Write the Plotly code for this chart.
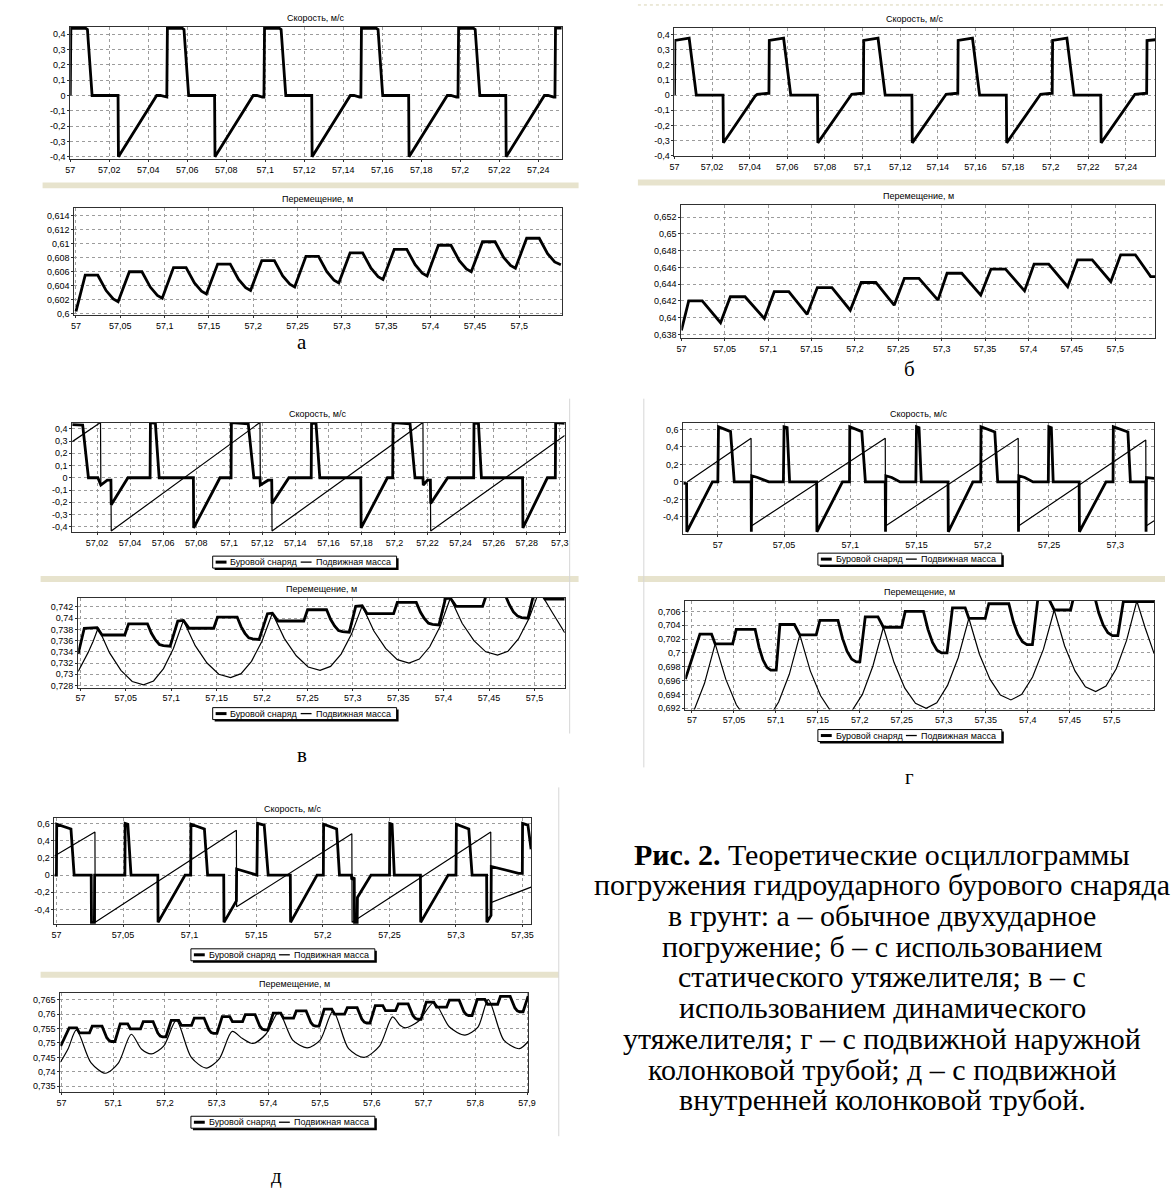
import plotly.graph_objects as go

W, H = 1173, 1196
FONT = "Liberation Sans, Arial, sans-serif"
SERIF = "Liberation Serif, Times New Roman, serif"

# ---------------- tick labels ----------------
T_002 = [57.00, 57.02, 57.04, 57.06, 57.08, 57.10, 57.12, 57.14, 57.16, 57.18, 57.20, 57.22, 57.24, 57.26, 57.28, 57.30]
T_002_LBL = ["57", "57,02", "57,04", "57,06", "57,08", "57,1", "57,12", "57,14", "57,16", "57,18", "57,2", "57,22", "57,24", "57,26", "57,28", "57,3"]
T_005 = [57.00, 57.05, 57.10, 57.15, 57.20, 57.25, 57.30, 57.35, 57.40, 57.45, 57.50]
T_005_LBL = ["57", "57,05", "57,1", "57,15", "57,2", "57,25", "57,3", "57,35", "57,4", "57,45", "57,5"]
T_01 = [57.0, 57.1, 57.2, 57.3, 57.4, 57.5, 57.6, 57.7, 57.8, 57.9]
T_01_LBL = ["57", "57,1", "57,2", "57,3", "57,4", "57,5", "57,6", "57,7", "57,8", "57,9"]

V01 = [-0.4, -0.3, -0.2, -0.1, 0.0, 0.1, 0.2, 0.3, 0.4]
V01_LBL = ["-0,4", "-0,3", "-0,2", "-0,1", "0", "0,1", "0,2", "0,3", "0,4"]
V02 = [-0.4, -0.2, 0.0, 0.2, 0.4, 0.6]
V02_LBL = ["-0,4", "-0,2", "0", "0,2", "0,4", "0,6"]

A_D_YT = [0.600, 0.602, 0.604, 0.606, 0.608, 0.610, 0.612, 0.614]
A_D_YL = ["0,6", "0,602", "0,604", "0,606", "0,608", "0,61", "0,612", "0,614"]
B_D_YT = [0.638, 0.640, 0.642, 0.644, 0.646, 0.648, 0.650, 0.652]
B_D_YL = ["0,638", "0,64", "0,642", "0,644", "0,646", "0,648", "0,65", "0,652"]
C_D_YT = [0.728, 0.730, 0.732, 0.734, 0.736, 0.738, 0.740, 0.742]
C_D_YL = ["0,728", "0,73", "0,732", "0,734", "0,736", "0,738", "0,74", "0,742"]
D_D_YT = [0.692, 0.694, 0.696, 0.698, 0.700, 0.702, 0.704, 0.706]
D_D_YL = ["0,692", "0,694", "0,696", "0,698", "0,7", "0,702", "0,704", "0,706"]
E_D_YT = [0.735, 0.740, 0.745, 0.750, 0.755, 0.760, 0.765]
E_D_YL = ["0,735", "0,74", "0,745", "0,75", "0,755", "0,76", "0,765"]

# ---------------- а: velocity / displacement ----------------
A_V = [
    (57.0000, 0.00), (57.0003, 0.44), (57.0080, 0.437), (57.0088, 0.43), (57.0112, 0.00), (57.0245, 0.00), (57.0247, -0.40), (57.0443, 0.00), (57.0462, 0.00), (57.0490, -0.01),
    (57.0495, -0.01), (57.0498, 0.44), (57.0575, 0.437), (57.0583, 0.43), (57.0607, 0.00), (57.0740, 0.00), (57.0742, -0.40), (57.0938, 0.00), (57.0957, 0.00), (57.0985, -0.01),
    (57.0993, -0.01), (57.0996, 0.44), (57.1073, 0.437), (57.1081, 0.43), (57.1105, 0.00), (57.1238, 0.00), (57.1240, -0.40), (57.1436, 0.00), (57.1455, 0.00), (57.1483, -0.01),
    (57.1490, -0.01), (57.1493, 0.44), (57.1570, 0.437), (57.1578, 0.43), (57.1602, 0.00), (57.1735, 0.00), (57.1737, -0.40), (57.1933, 0.00), (57.1952, 0.00), (57.1980, -0.01),
    (57.1988, -0.01), (57.1991, 0.44), (57.2068, 0.437), (57.2076, 0.43), (57.2100, 0.00), (57.2233, 0.00), (57.2235, -0.40), (57.2431, 0.00), (57.2450, 0.00), (57.2478, -0.01),
    (57.2485, -0.01), (57.2488, 0.44), (57.2520, 0.44),
]
A_D = [
    (57.0000, 0.6003),
    (57.0104, 0.6055), (57.0246, 0.6055), (57.0340, 0.6033), (57.0420, 0.6021), (57.0475, 0.6017),
    (57.0602, 0.6060), (57.0744, 0.6060), (57.0838, 0.6038), (57.0918, 0.6026), (57.0973, 0.6022),
    (57.1100, 0.6066), (57.1242, 0.6066), (57.1336, 0.6044), (57.1416, 0.6032), (57.1471, 0.6028),
    (57.1598, 0.6071), (57.1740, 0.6071), (57.1834, 0.6049), (57.1914, 0.6037), (57.1969, 0.6033),
    (57.2096, 0.6076), (57.2238, 0.6076), (57.2332, 0.6054), (57.2412, 0.6042), (57.2467, 0.6038),
    (57.2594, 0.6082), (57.2736, 0.6082), (57.2830, 0.6060), (57.2910, 0.6048), (57.2965, 0.6044),
    (57.3092, 0.6087), (57.3234, 0.6087), (57.3328, 0.6065), (57.3408, 0.6053), (57.3463, 0.6049),
    (57.3590, 0.6092), (57.3732, 0.6092), (57.3826, 0.6070), (57.3906, 0.6058), (57.3961, 0.6054),
    (57.4088, 0.6098), (57.4230, 0.6098), (57.4324, 0.6076), (57.4404, 0.6064), (57.4459, 0.6060),
    (57.4586, 0.6103), (57.4728, 0.6103), (57.4822, 0.6081), (57.4902, 0.6069), (57.4957, 0.6065),
    (57.5084, 0.6108), (57.5226, 0.6108), (57.5320, 0.6086), (57.5400, 0.6074), (57.5470, 0.6070),
]

# ---------------- б ----------------
B_V = [
    (57.0000, 0.00), (57.0002, 0.36), (57.0078, 0.375), (57.0116, 0.00), (57.0258, 0.00), (57.0260, -0.315), (57.0430, -0.005), (57.0440, 0.005), (57.0500, 0.012),
    (57.0502, 0.012), (57.0504, 0.36), (57.0580, 0.375), (57.0618, 0.00), (57.0760, 0.00), (57.0762, -0.315), (57.0932, -0.005), (57.0942, 0.005), (57.1002, 0.012),
    (57.1004, 0.012), (57.1006, 0.36), (57.1082, 0.375), (57.1120, 0.00), (57.1262, 0.00), (57.1264, -0.315), (57.1434, -0.005), (57.1444, 0.005), (57.1504, 0.012),
    (57.1506, 0.012), (57.1508, 0.36), (57.1584, 0.375), (57.1622, 0.00), (57.1764, 0.00), (57.1766, -0.315), (57.1936, -0.005), (57.1946, 0.005), (57.2006, 0.012),
    (57.2008, 0.012), (57.2010, 0.36), (57.2086, 0.375), (57.2124, 0.00), (57.2266, 0.00), (57.2268, -0.315), (57.2438, -0.005), (57.2448, 0.005), (57.2508, 0.012),
    (57.2510, 0.012), (57.2512, 0.36), (57.2555, 0.365),
]
B_D = [
    (57.0000, 0.6385), (57.0084, 0.6420), (57.0240, 0.6420), (57.0451, 0.6394),
    (57.0564, 0.6425), (57.0733, 0.6425), (57.0956, 0.6399),
    (57.1070, 0.6431), (57.1238, 0.6431), (57.1449, 0.6404),
    (57.1567, 0.6436), (57.1735, 0.6436), (57.1946, 0.6409),
    (57.2072, 0.6442), (57.2241, 0.6442), (57.2452, 0.6415),
    (57.2570, 0.6447), (57.2738, 0.6447), (57.2957, 0.6421),
    (57.3062, 0.6453), (57.3231, 0.6453), (57.3450, 0.6427),
    (57.3568, 0.6458), (57.3736, 0.6458), (57.3955, 0.6432),
    (57.4065, 0.6464), (57.4233, 0.6464), (57.4452, 0.6437),
    (57.4566, 0.6469), (57.4735, 0.6469), (57.4949, 0.6443),
    (57.5063, 0.6475), (57.5232, 0.6475), (57.5409, 0.6449), (57.5463, 0.6449),
]

# ---------------- в ----------------
C_V_DRILL = [
    (57.0050, 0.435), (57.0113, 0.43), (57.0148, 0.00), (57.0205, 0.00), (57.0223, -0.06), (57.0262, -0.02), (57.0284, -0.02), (57.0286, -0.22), (57.0387, 0.00),
    (57.0521, 0.00), (57.0523, 0.45), (57.0553, 0.445), (57.0576, 0.00), (57.0783, 0.00), (57.0785, -0.41), (57.0944, 0.00), (57.1011, 0.00), (57.1013, 0.45),
    (57.1115, 0.44), (57.1149, 0.00), (57.1186, 0.00), (57.1188, -0.06), (57.1235, -0.02), (57.1257, -0.02), (57.1259, -0.21), (57.1361, 0.00),
    (57.1496, 0.00), (57.1498, 0.45), (57.1525, 0.445), (57.1548, 0.00), (57.1796, 0.00), (57.1798, -0.41), (57.1957, 0.00), (57.1989, 0.00), (57.1991, 0.45),
    (57.2094, 0.44), (57.2124, 0.00), (57.2172, 0.00), (57.2174, -0.06), (57.2200, -0.02), (57.2217, -0.02), (57.2219, -0.21), (57.2322, 0.00),
    (57.2479, 0.00), (57.2481, 0.45), (57.2508, 0.445), (57.2526, 0.00), (57.2775, 0.00), (57.2777, -0.41), (57.2925, 0.00), (57.2973, 0.00), (57.2975, 0.45),
    (57.3030, 0.445),
]
C_V_MASS = [
    (57.0050, 0.295), (57.0221, 0.452), (57.0223, -0.06), (57.0262, -0.02), (57.0284, -0.02), (57.0286, -0.435),
    (57.1186, 0.452), (57.1188, -0.06), (57.1235, -0.02), (57.1257, -0.02), (57.1259, -0.435),
    (57.2172, 0.452), (57.2174, -0.06), (57.2200, -0.02), (57.2217, -0.02), (57.2219, -0.435),
    (57.3030, 0.345),
]
C_D_DRILL = [
    (56.9975, 0.7336), (57.0042, 0.7382), (57.0183, 0.7383), (57.0238, 0.7370), (57.0488, 0.7370), (57.0530, 0.7390), (57.0738, 0.7390),
    (57.0782, 0.7373), (57.0826, 0.7361), (57.0869, 0.7353), (57.0913, 0.7351), (57.0988, 0.7350),
    (57.1072, 0.7395), (57.1134, 0.7396), (57.1197, 0.7382), (57.1468, 0.7382), (57.1510, 0.7402), (57.1726, 0.7402),
    (57.1769, 0.7385), (57.1812, 0.7373), (57.1854, 0.7365), (57.1897, 0.7363), (57.1968, 0.7362),
    (57.2060, 0.7408), (57.2114, 0.7409), (57.2177, 0.7395), (57.2460, 0.7395), (57.2502, 0.7415), (57.2711, 0.7415),
    (57.2755, 0.7398), (57.2799, 0.7386), (57.2842, 0.7378), (57.2886, 0.7376), (57.2961, 0.7375),
    (57.3032, 0.7421), (57.3103, 0.7422), (57.3157, 0.7408), (57.3449, 0.7408), (57.3490, 0.7428), (57.3699, 0.7428),
    (57.3744, 0.7411), (57.3789, 0.7399), (57.3833, 0.7391), (57.3878, 0.7389), (57.3949, 0.7388),
    (57.4020, 0.7435), (57.4074, 0.7436), (57.4137, 0.7421), (57.4429, 0.7421), (57.4470, 0.7441), (57.4679, 0.7441),
    (57.4724, 0.7424), (57.4769, 0.7411), (57.4813, 0.7404), (57.4858, 0.7401), (57.4929, 0.7400),
    (57.5000, 0.7448), (57.5054, 0.7449), (57.5117, 0.7434), (57.5334, 0.7434),
]
C_D_MASS = [
    (56.9975, 0.7305), (57.0030, 0.7321), (57.0085, 0.7339), (57.0140, 0.7359), (57.0196, 0.7383),
    (57.0321, 0.7338), (57.0446, 0.7307), (57.0570, 0.7287), (57.0695, 0.7281), (57.0805, 0.7288), (57.0915, 0.7310), (57.1024, 0.7346), (57.1134, 0.7396),
    (57.1264, 0.7351), (57.1394, 0.7320), (57.1524, 0.7300), (57.1654, 0.7294), (57.1769, 0.7301), (57.1884, 0.7323), (57.1999, 0.7359), (57.2114, 0.7409),
    (57.2245, 0.7364), (57.2377, 0.7333), (57.2508, 0.7313), (57.2639, 0.7307), (57.2755, 0.7314), (57.2871, 0.7336), (57.2987, 0.7372), (57.3103, 0.7422),
    (57.3232, 0.7377), (57.3361, 0.7346), (57.3490, 0.7326), (57.3619, 0.7320), (57.3733, 0.7327), (57.3847, 0.7349), (57.3961, 0.7385), (57.4074, 0.7436),
    (57.4204, 0.7391), (57.4334, 0.7360), (57.4464, 0.7340), (57.4594, 0.7334), (57.4709, 0.7341), (57.4824, 0.7363), (57.4939, 0.7399), (57.5054, 0.7449),
    (57.5194, 0.7411), (57.5334, 0.7374),
]

# ---------------- г ----------------
D_V_DRILL = [
    (56.9739, -0.015), (56.9764, -0.02), (56.9766, -0.57), (56.9959, 0.00), (57.0000, 0.00), (57.0005, 0.63), (57.0096, 0.575), (57.0124, 0.00),
    (57.0251, 0.00), (57.0253, -0.57), (57.0256, 0.07), (57.0300, 0.05), (57.0385, 0.00), (57.0495, 0.00), (57.0500, 0.63), (57.0523, 0.62), (57.0542, 0.00),
    (57.0746, 0.00), (57.0748, -0.57), (57.0941, 0.00), (57.0994, 0.00), (57.0996, 0.63), (57.1087, 0.575), (57.1114, 0.00),
    (57.1264, 0.00), (57.1266, -0.57), (57.1269, 0.07), (57.1313, 0.05), (57.1376, 0.00), (57.1495, 0.00), (57.1500, 0.63), (57.1519, 0.62), (57.1536, 0.00),
    (57.1738, 0.00), (57.1740, -0.57), (57.1926, 0.00), (57.1985, 0.00), (57.1987, 0.63), (57.2091, 0.57), (57.2113, 0.00),
    (57.2268, 0.00), (57.2270, -0.57), (57.2273, 0.07), (57.2317, 0.05), (57.2380, 0.00), (57.2495, 0.00), (57.2499, 0.63), (57.2518, 0.62), (57.2532, 0.00),
    (57.2728, 0.00), (57.2730, -0.57), (57.2931, 0.00), (57.2984, 0.00), (57.2986, 0.63), (57.3096, 0.57), (57.3115, 0.00),
    (57.3231, 0.00), (57.3233, -0.57), (57.3236, 0.05), (57.3294, 0.04),
]
D_V_MASS = [
    (56.9768, 0.00), (57.0251, 0.50), (57.0253, -0.505), (57.1264, 0.50), (57.1266, -0.505),
    (57.2268, 0.50), (57.2270, -0.505), (57.3231, 0.48), (57.3233, -0.505), (57.3294, -0.445),
]
D_D_DRILL = [
    (56.9922, 0.6962), (57.0095, 0.7027), (57.0234, 0.7027), (57.0277, 0.7013), (57.0485, 0.7013), (57.0528, 0.7034), (57.0753, 0.7034),
    (57.0800, 0.7008), (57.0846, 0.6990), (57.0893, 0.6979), (57.0939, 0.6975), (57.1004, 0.6975),
    (57.1048, 0.7041), (57.1221, 0.7041), (57.1286, 0.7026), (57.1481, 0.7026), (57.1524, 0.7047), (57.1740, 0.7047),
    (57.1794, 0.7021), (57.1849, 0.7002), (57.1903, 0.6991), (57.1957, 0.6987), (57.2000, 0.6987),
    (57.2065, 0.7052), (57.2216, 0.7052), (57.2281, 0.7037), (57.2498, 0.7037), (57.2541, 0.7060), (57.2758, 0.7060),
    (57.2812, 0.7034), (57.2866, 0.7015), (57.2920, 0.7004), (57.2974, 0.7000), (57.3039, 0.7000),
    (57.3104, 0.7065), (57.3255, 0.7065), (57.3299, 0.7050), (57.3494, 0.7050), (57.3537, 0.7071), (57.3775, 0.7071),
    (57.3829, 0.7045), (57.3883, 0.7027), (57.3937, 0.7016), (57.3991, 0.7012), (57.4056, 0.7012),
    (57.4121, 0.7078), (57.4251, 0.7078), (57.4316, 0.7062), (57.4511, 0.7062), (57.4554, 0.7084), (57.4792, 0.7084),
    (57.4846, 0.7058), (57.4900, 0.7040), (57.4955, 0.7029), (57.5009, 0.7025), (57.5074, 0.7025),
    (57.5139, 0.7074), (57.5506, 0.7074),
]
D_D_MASS = [
    (56.9922, 0.6896), (57.0025, 0.6917), (57.0150, 0.6956), (57.0277, 0.7013),
    (57.0403, 0.6962), (57.0529, 0.6925), (57.0654, 0.6903), (57.0780, 0.6896), (57.0907, 0.6904), (57.1033, 0.6929), (57.1160, 0.6969), (57.1286, 0.7026),
    (57.1410, 0.6974), (57.1533, 0.6938), (57.1657, 0.6915), (57.1780, 0.6908), (57.1905, 0.6916), (57.2031, 0.6940), (57.2156, 0.6981), (57.2281, 0.7037),
    (57.2408, 0.6986), (57.2536, 0.6949), (57.2663, 0.6927), (57.2790, 0.6920), (57.2917, 0.6928), (57.3045, 0.6953), (57.3172, 0.6993), (57.3299, 0.7050),
    (57.3425, 0.6998), (57.3550, 0.6962), (57.3675, 0.6939), (57.3800, 0.6932), (57.3929, 0.6940), (57.4058, 0.6965), (57.4187, 0.7005), (57.4316, 0.7062),
    (57.4440, 0.7010), (57.4563, 0.6974), (57.4687, 0.6951), (57.4810, 0.6944), (57.4933, 0.6952), (57.5055, 0.6977), (57.5178, 0.7018), (57.5300, 0.7075),
    (57.5400, 0.7036), (57.5506, 0.6999),
]

# ---------------- д ----------------
E_V_DRILL = [
    (56.9985, 0.00), (57.0000, 0.00), (57.0002, 0.59), (57.0109, 0.535), (57.0133, 0.00), (57.0261, 0.00), (57.0263, -0.55), (57.0285, -0.55), (57.0287, 0.00),
    (57.0514, 0.00), (57.0516, 0.60), (57.0536, 0.59), (57.0560, 0.00), (57.0761, 0.00), (57.0763, -0.55), (57.0966, 0.00), (57.1008, 0.00), (57.1010, 0.59),
    (57.1111, 0.535), (57.1135, 0.00), (57.1256, 0.00), (57.1258, -0.55), (57.1351, -0.30), (57.1353, 0.07), (57.1505, 0.00), (57.1510, 0.60), (57.1560, 0.58),
    (57.1590, 0.00), (57.1756, 0.00), (57.1758, -0.55), (57.1957, 0.00), (57.2004, 0.00), (57.2006, 0.59), (57.2104, 0.535), (57.2125, 0.00), (57.2215, 0.00),
    (57.2217, -0.05), (57.2236, -0.03), (57.2238, -0.55), (57.2258, -0.55), (57.2260, -0.26), (57.2362, 0.00), (57.2501, 0.00), (57.2503, 0.60), (57.2520, 0.59),
    (57.2537, 0.00), (57.2733, 0.00), (57.2735, -0.55), (57.2941, 0.00), (57.3000, 0.00), (57.3003, 0.59), (57.3096, 0.535), (57.3121, 0.00), (57.3230, 0.00),
    (57.3232, -0.55), (57.3263, -0.47), (57.3265, 0.10), (57.3470, 0.02), (57.3498, 0.02), (57.3500, 0.60), (57.3540, 0.58), (57.3564, 0.30),
]
E_V_MASS = [
    (56.9985, 0.22), (57.0289, 0.50), (57.0291, -0.55), (57.1351, 0.52), (57.1353, -0.37),
    (57.2218, 0.48), (57.2220, -0.55), (57.3261, 0.50), (57.3263, -0.32), (57.3564, -0.14),
]
E_D_DRILL = [
    (56.9985, 0.7489),
    (57.0150, 0.7552), (57.0295, 0.7552), (57.0347, 0.7535), (57.0543, 0.7535), (57.0596, 0.7558), (57.0785, 0.7558), (57.0831, 0.7535), (57.0877, 0.7518), (57.0923, 0.7508), (57.0969, 0.7505), (57.1034, 0.7505),
    (57.1136, 0.7566), (57.1281, 0.7566), (57.1333, 0.7549), (57.1529, 0.7549), (57.1582, 0.7574), (57.1771, 0.7574), (57.1817, 0.7551), (57.1863, 0.7534), (57.1909, 0.7524), (57.1955, 0.7521), (57.2020, 0.7521),
    (57.2122, 0.7578), (57.2267, 0.7578), (57.2319, 0.7561), (57.2515, 0.7561), (57.2568, 0.7586), (57.2757, 0.7586), (57.2803, 0.7563), (57.2849, 0.7546), (57.2895, 0.7536), (57.2941, 0.7533), (57.3006, 0.7533),
    (57.3108, 0.7591), (57.3253, 0.7591), (57.3305, 0.7574), (57.3501, 0.7574), (57.3554, 0.7598), (57.3743, 0.7598), (57.3789, 0.7575), (57.3835, 0.7558), (57.3881, 0.7548), (57.3927, 0.7545), (57.3992, 0.7545),
    (57.4094, 0.7603), (57.4239, 0.7603), (57.4291, 0.7586), (57.4487, 0.7586), (57.4540, 0.7611), (57.4729, 0.7611), (57.4775, 0.7588), (57.4821, 0.7571), (57.4867, 0.7561), (57.4913, 0.7558), (57.4978, 0.7558),
    (57.5080, 0.7617), (57.5225, 0.7617), (57.5277, 0.7600), (57.5473, 0.7600), (57.5526, 0.7622), (57.5715, 0.7622), (57.5761, 0.7599), (57.5807, 0.7582), (57.5853, 0.7572), (57.5899, 0.7569), (57.5964, 0.7569),
    (57.6066, 0.7629), (57.6211, 0.7629), (57.6263, 0.7612), (57.6459, 0.7612), (57.6512, 0.7635), (57.6701, 0.7635), (57.6747, 0.7612), (57.6793, 0.7595), (57.6839, 0.7585), (57.6885, 0.7582), (57.6950, 0.7582),
    (57.7052, 0.7641), (57.7197, 0.7641), (57.7249, 0.7624), (57.7445, 0.7624), (57.7498, 0.7648), (57.7687, 0.7648), (57.7733, 0.7625), (57.7779, 0.7608), (57.7825, 0.7598), (57.7871, 0.7595), (57.7936, 0.7595),
    (57.8038, 0.7651), (57.8183, 0.7651), (57.8235, 0.7634), (57.8431, 0.7634), (57.8484, 0.7661), (57.8673, 0.7661), (57.8719, 0.7638), (57.8765, 0.7621), (57.8811, 0.7611), (57.8857, 0.7608), (57.8922, 0.7608),
    (57.9020, 0.7662),
]
E_D_MASS = [
    (56.998, 0.7433), (57.013, 0.7480), (57.029, 0.7545), (57.057, 0.7432), (57.085, 0.7395), (57.110, 0.7430), (57.135, 0.7530),
    (57.155, 0.7478), (57.174, 0.7462), (57.198, 0.7490), (57.222, 0.7578), (57.251, 0.7450), (57.280, 0.7413), (57.305, 0.7445),
    (57.330, 0.7540), (57.350, 0.7515), (57.370, 0.7498), (57.395, 0.7530), (57.420, 0.7606), (57.447, 0.7510), (57.475, 0.7483),
    (57.500, 0.7510), (57.525, 0.7610), (57.555, 0.7480), (57.585, 0.7450), (57.615, 0.7490), (57.640, 0.7590), (57.655, 0.7560),
    (57.665, 0.7552), (57.690, 0.7575), (57.720, 0.7640), (57.750, 0.7555), (57.780, 0.7527), (57.805, 0.7555), (57.825, 0.7650),
    (57.855, 0.7510), (57.885, 0.7480), (57.902, 0.7505),
]

TITLE_V = "Скорость, м/с"
TITLE_D = "Перемещение, м"
LEG_DRILL = "Буровой снаряд"
LEG_MASS = "Подвижная масса"

THICK, THIN = 2.8, 1.2

PANELS = [
    dict(box=(66, 563, 27, 160), xr=[57.0, 57.252], yr=[-0.417, 0.447], xt=T_002, xl=T_002_LBL, yt=V01, yl=V01_LBL,
         title=TITLE_V, series=[(A_V, THICK, "linear")]),
    dict(box=(70, 563, 209, 316), xr=[56.998, 57.548], yr=[0.5998, 0.6151], xt=T_005, xl=T_005_LBL, yt=A_D_YT, yl=A_D_YL,
         title=TITLE_D, series=[(A_D, THICK, "linear")]),
    dict(box=(677, 1163, 28, 157), xr=[57.0, 57.2555], yr=[-0.405, 0.443], xt=T_002, xl=T_002_LBL, yt=V01, yl=V01_LBL,
         title=TITLE_V, series=[(B_V, THICK, "linear")]),
    dict(box=(684, 1163, 206, 339), xr=[57.0, 57.546], yr=[0.6376, 0.6534], xt=T_005, xl=T_005_LBL, yt=B_D_YT, yl=B_D_YL,
         title=TITLE_D, series=[(B_D, THICK, "linear")]),
    dict(box=(68, 566, 424, 534), xr=[57.005, 57.303], yr=[-0.445, 0.451], xt=T_002, xl=T_002_LBL, yt=V01, yl=V01_LBL,
         title=TITLE_V, series=[(C_V_MASS, THIN, "linear"), (C_V_DRILL, THICK, "linear")]),
    dict(box=(74, 566, 600, 690), xr=[56.9975, 57.5334], yr=[0.7276, 0.7436], xt=T_005, xl=T_005_LBL, yt=C_D_YT, yl=C_D_YL,
         title=TITLE_D, series=[(C_D_MASS, THIN, "linear"), (C_D_DRILL, THICK, "linear")]),
    dict(box=(686, 1162, 424, 536), xr=[56.974, 57.3294], yr=[-0.598, 0.678], xt=T_005, xl=T_005_LBL, yt=V02, yl=V02_LBL,
         title=TITLE_V, series=[(D_V_MASS, THIN, "linear"), (D_V_DRILL, THICK, "linear")]),
    dict(box=(688, 1162, 603, 712), xr=[56.9922, 57.5506], yr=[0.6918, 0.7075], xt=T_005, xl=T_005_LBL, yt=D_D_YT, yl=D_D_YL,
         title=TITLE_D, series=[(D_D_MASS, THIN, "linear"), (D_D_DRILL, THICK, "linear")]),
    dict(box=(50, 532, 821, 927), xr=[56.9985, 57.3564], yr=[-0.568, 0.66], xt=T_005, xl=T_005_LBL, yt=V02, yl=V02_LBL,
         title=TITLE_V, series=[(E_V_MASS, THIN, "linear"), (E_V_DRILL, THICK, "linear")]),
    dict(box=(56, 529, 996, 1096), xr=[56.998, 57.902], yr=[0.7329, 0.7674], xt=T_01, xl=T_01_LBL, yt=E_D_YT, yl=E_D_YL,
         title=TITLE_D, series=[(E_D_MASS, THIN, "spline"), (E_D_DRILL, THICK, "linear")]),
]

fig = go.Figure()
shapes, annotations = [], []


def px(x):
    return x / W


def py(y):
    return 1 - y / H


axis_common = dict(
    showgrid=True, gridcolor="#9c9c9c", griddash="dot", gridwidth=1,
    showline=True, linecolor="#303030", linewidth=1, mirror=True, zeroline=False,
    ticks="outside", ticklen=2, tickcolor="#303030",
    tickfont=dict(family=FONT, size=9, color="#000"), fixedrange=True, tickmode="array",
)

for i, p in enumerate(PANELS, start=1):
    x0, x1, y0, y1 = p["box"]
    sfx = "" if i == 1 else str(i)
    for pts, width, shape in p["series"]:
        xs = [a for a, _ in pts]
        ys = [b for _, b in pts]
        fig.add_trace(go.Scatter(
            x=xs, y=ys, mode="lines",
            line=dict(color="black", width=width, shape=shape, smoothing=0.8 if shape == "spline" else None),
            xaxis="x" + sfx, yaxis="y" + sfx, hoverinfo="skip", showlegend=False,
        ))
    fig.update_layout(**{
        "xaxis" + sfx: dict(domain=[px(x0), px(x1)], range=p["xr"], anchor="y" + sfx,
                            tickvals=p["xt"], ticktext=p["xl"], **axis_common),
        "yaxis" + sfx: dict(domain=[py(y1), py(y0)], range=p["yr"], anchor="x" + sfx,
                            tickvals=p["yt"], ticktext=p["yl"], **axis_common),
    })
    annotations.append(dict(text=p["title"], x=px((x0 + x1) / 2), y=py(y0 - 9), xref="paper", yref="paper",
                            showarrow=False, xanchor="center", yanchor="middle",
                            font=dict(family=FONT, size=9, color="#000")))


def legend(x0, yc):
    w, h = 186, 12
    shapes.append(dict(type="rect", xref="paper", yref="paper", x0=px(x0 + 2), x1=px(x0 + w + 2),
                       y0=py(yc + h / 2 + 2), y1=py(yc - h / 2 + 2), fillcolor="black", line=dict(width=0)))
    shapes.append(dict(type="rect", xref="paper", yref="paper", x0=px(x0), x1=px(x0 + w),
                       y0=py(yc + h / 2), y1=py(yc - h / 2), fillcolor="white", line=dict(color="black", width=1)))
    shapes.append(dict(type="line", xref="paper", yref="paper", x0=px(x0 + 3), x1=px(x0 + 14),
                       y0=py(yc), y1=py(yc), line=dict(color="black", width=3)))
    shapes.append(dict(type="line", xref="paper", yref="paper", x0=px(x0 + 89), x1=px(x0 + 100),
                       y0=py(yc), y1=py(yc), line=dict(color="black", width=1.3)))
    annotations.append(dict(text=LEG_DRILL, x=px(x0 + 16), y=py(yc), xref="paper", yref="paper", showarrow=False,
                            xanchor="left", yanchor="middle", font=dict(family=FONT, size=9, color="#000")))
    annotations.append(dict(text=LEG_MASS, x=px(x0 + 102), y=py(yc), xref="paper", yref="paper", showarrow=False,
                            xanchor="left", yanchor="middle", font=dict(family=FONT, size=9, color="#000")))


legend(210, 564)
legend(210, 716)
legend(822, 561)
legend(822, 738)
legend(188, 958)
legend(188, 1126)

# separator bands and frames
BAND = "#e7e3cd"
for bx0, bx1, by0, by1 in [(38, 580, 183, 189), (640, 1173, 180, 186), (36, 580, 578, 584),
                           (640, 1173, 578, 584), (36, 560, 975, 981)]:
    shapes.append(dict(type="rect", xref="paper", yref="paper", x0=px(bx0), x1=px(bx1), y0=py(by1), y1=py(by0),
                       fillcolor=BAND, line=dict(width=0), layer="below"))
shapes.append(dict(type="line", xref="paper", yref="paper", x0=px(640), x1=px(1173), y0=py(5), y1=py(5),
                   line=dict(color="#d9d4b4", width=1, dash="dot")))
for lx, ly0, ly1 in [(571, 400, 736), (646, 400, 770), (560, 790, 1140)]:
    shapes.append(dict(type="line", xref="paper", yref="paper", x0=px(lx), x1=px(lx), y0=py(ly1), y1=py(ly0),
                       line=dict(color="#d6d6d6", width=1)))

# panel letters
for txt, lx, ly in [("а", 300, 343), ("б", 915, 370), ("в", 300, 758), ("г", 915, 780), ("д", 275, 1180)]:
    annotations.append(dict(text=txt, x=px(lx), y=py(ly), xref="paper", yref="paper", showarrow=False,
                            xanchor="center", yanchor="middle", font=dict(family=SERIF, size=21, color="#000")))

CAPTION = [
    "<b>Рис. 2.</b> Теоретические осциллограммы",
    "погружения гидроударного бурового снаряда",
    "в грунт: а – обычное двухударное",
    "погружение; б – с использованием",
    "статического утяжелителя; в – с",
    "использованием динамического",
    "утяжелителя; г – с подвижной наружной",
    "колонковой трубой; д – с подвижной",
    "внутренней колонковой трубой.",
]
for k, line in enumerate(CAPTION):
    annotations.append(dict(text=line, x=px(887), y=py(857 + k * 30.8), xref="paper", yref="paper", showarrow=False,
                            xanchor="center", yanchor="middle", font=dict(family=SERIF, size=30, color="#000")))

fig.update_layout(
    width=W, height=H, autosize=False, margin=dict(l=0, r=0, t=0, b=0),
    paper_bgcolor="white", plot_bgcolor="white", showlegend=False,
    shapes=shapes, annotations=annotations,
)

fig.write_html("out.html", config={"displayModeBar": False, "staticPlot": True},
               post_script="document.body.style.margin='0';document.body.style.overflow='hidden';")
